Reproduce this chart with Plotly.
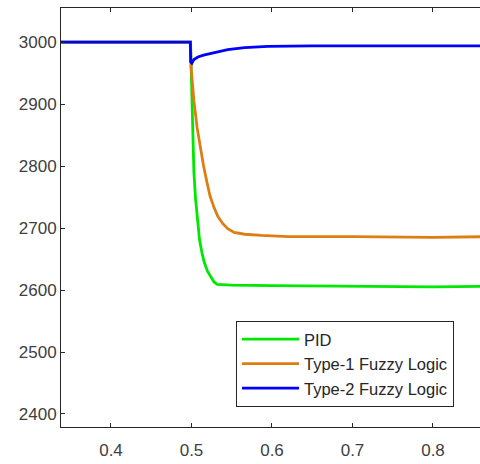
import plotly.graph_objects as go

# ---- data ----
pid_t = [0.335, 0.4988, 0.4996, 0.5005, 0.5016, 0.503, 0.505, 0.5075, 0.510, 0.513,
         0.516, 0.520, 0.5245, 0.528, 0.532, 0.55, 0.6, 0.7, 0.8, 0.86]
pid_y = [3000, 3000, 2958, 2900, 2840, 2790, 2748, 2710, 2681, 2660,
         2644, 2630, 2619, 2613, 2609, 2608, 2607, 2606, 2605, 2606]

t1_t = [0.335, 0.4988, 0.4996, 0.503, 0.507, 0.511, 0.515, 0.519, 0.523, 0.528,
        0.533, 0.539, 0.545, 0.553, 0.566, 0.587, 0.62, 0.7, 0.8, 0.86]
t1_y = [3000, 3000, 2958, 2905, 2862, 2830, 2800, 2775, 2752, 2733,
        2718, 2707, 2699, 2693, 2690, 2688, 2686, 2686, 2685, 2686]

t2_t = [0.335, 0.4986, 0.499, 0.5005, 0.503, 0.508, 0.515, 0.525, 0.533, 0.545,
        0.566, 0.595, 0.65, 0.75, 0.86]
t2_y = [3000, 3000, 2968, 2966, 2972, 2976, 2979, 2982, 2984, 2988,
        2991, 2993, 2994, 2994, 2994]

names = ["PID", "Type-1 Fuzzy Logic", "Type-2 Fuzzy Logic"]
colors = ["rgb(0,232,0)", "rgb(222,126,18)", "rgb(0,0,255)"]

x_ticks = [0.4, 0.5, 0.6, 0.7, 0.8]
y_ticks = [2400, 2500, 2600, 2700, 2800, 2900, 3000]

fig = go.Figure()
for tt, yy, nm, c in zip([pid_t, t1_t, t2_t], [pid_y, t1_y, t2_y], names, colors):
    fig.add_trace(go.Scatter(x=tt, y=yy, mode="lines", name=nm,
                             line=dict(color=c, width=2.8)))

axis_col = "#262626"
fig.update_layout(
    width=480, height=464,
    margin=dict(l=61, r=0, t=8, b=37),
    paper_bgcolor="white", plot_bgcolor="white",
    font=dict(family="Liberation Sans, Arial, sans-serif", size=17, color="#404040"),
    showlegend=True,
    legend=dict(x=0.4177, y=0.2530, xanchor="left", yanchor="top",
                bgcolor="white", bordercolor=axis_col, borderwidth=1,
                font=dict(size=16.5, color="#262626"), itemwidth=57,
                tracegroupgap=0),
    xaxis=dict(range=[0.3379, 0.8584], tickvals=x_ticks,
               ticktext=[f"{v:.1f}" for v in x_ticks],
               ticks="inside", ticklen=4, tickcolor=axis_col,
               ticklabelstandoff=8,
               showline=True, linecolor=axis_col, linewidth=1,
               mirror="allticks", showgrid=False, zeroline=False),
    yaxis=dict(range=[2379, 3055], tickvals=y_ticks,
               ticks="inside", ticklen=4, tickcolor=axis_col,
               showline=True, linecolor=axis_col, linewidth=1,
               showgrid=False, zeroline=False),
)

fig.write_html("out.html")
